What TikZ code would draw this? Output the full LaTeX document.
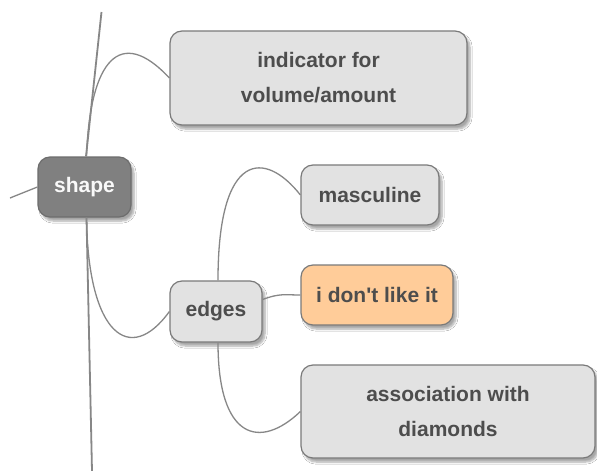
\documentclass[tikz,border=0pt]{standalone}
\usepackage{fontspec}
\setmainfont{Liberation Sans}
\usetikzlibrary{positioning, shadows.blur}
\definecolor{BoxGray}{HTML}{E2E2E2}
\definecolor{EdgeGray}{HTML}{7A7A7A}
\definecolor{TextGray}{HTML}{4D4D4D}
\definecolor{TopicGray}{HTML}{808080}
\definecolor{SoftOrange}{HTML}{FFCC99}

\begin{document}
\begin{tikzpicture}[x=1pt, y=-1pt,
    topic/.style={rectangle, rounded corners=12pt, draw=EdgeGray, line width=1.2pt,
        fill=BoxGray, text=TextGray, font=\fontsize{21}{35}\selectfont\bfseries,
        align=center, inner sep=0pt,
        blur shadow={shadow xshift=3pt, shadow yshift=-4pt, shadow blur steps=6, shadow opacity=35}},
    branch/.style={draw=EdgeGray!90, line width=1.3pt},
    trunk/.style={draw=EdgeGray!90, line width=1.8pt}]
    \useasboundingbox[fill=white] (0,0) rectangle (597,471);
    % Nodos
    \node[topic, fill=TopicGray, draw=TopicGray!85!black, text=white!95!gray,
        minimum width=93pt, minimum height=60pt] (shape) at (84.5,187) {shape};
    \node[topic, minimum width=297pt, minimum height=94pt] (indicator) at (318.5,78) {indicator for\\volume/amount};
    \node[topic, minimum width=92pt, minimum height=61pt] (edges) at (216,311.5) {edges};
    \node[topic, minimum width=138pt, minimum height=60pt] (masculine) at (370,195) {masculine};
    \node[topic, fill=SoftOrange, minimum width=152pt, minimum height=60pt] (dislike) at (377,295) {i don\textquotesingle t like it};
    \node[topic, minimum width=294pt, minimum height=93pt] (diamonds) at (448,411.5) {association with\\diamonds};
    \coordinate (top) at (101.5,12);
    \coordinate (bottom) at (92,471);
    \coordinate (left) at (10,198);

    % Conexiones
    \draw[trunk] (shape.north) ++(1.5,0) -- (top);
    \draw[trunk] (shape.south) ++(2,0) -- (bottom);
    \draw[branch] (shape.west) -- (left);
    \draw[branch] (shape.north) ++(2,0) .. controls (90,60) and (120,25) .. (indicator.west);
    \draw[branch] (shape.south) ++(2,0) .. controls (88,335) and (130,366) .. (edges.west);
    \draw[branch] (edges.north) ++(2,0) .. controls (218,150) and (265,150) .. (masculine.west);
    \draw[branch] (edges.east) ++(0,-12) .. controls (280,293) and (285,295) .. (dislike.west);
    \draw[branch] (edges.south) ++(2,0) .. controls (218,440) and (260,450) .. (diamonds.west);
\end{tikzpicture}
\end{document}
